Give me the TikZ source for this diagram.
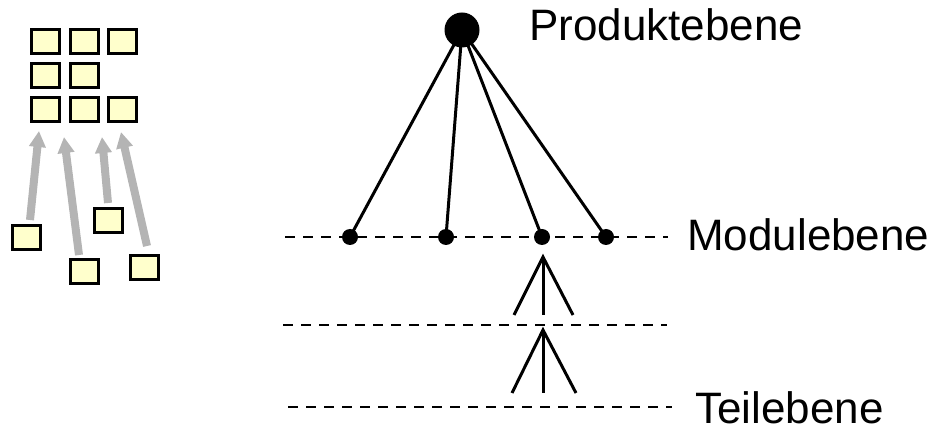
\documentclass[tikz,border=0pt]{standalone}
\usepackage{fontspec}
\setmainfont{Liberation Sans}
\usetikzlibrary{arrows.meta}
\definecolor{partfill}{RGB}{255,255,204}
\definecolor{flowgray}{RGB}{180,180,180}
\tikzset{
  part/.style={draw=black, line width=3pt, fill=partfill, minimum width=28pt, minimum height=24pt, inner sep=0pt, outer sep=0pt},
  flow/.style={draw=flowgray, line width=8pt, -{Triangle[width=16pt,length=16pt]}},
  level/.style={line width=2.7pt, dash pattern=on 10pt off 8pt},
  edge/.style={line width=3pt},
  bigdot/.style={circle, fill=black, minimum size=35pt, inner sep=0pt, outer sep=0pt},
  dot/.style={circle, fill=black, minimum size=16pt, inner sep=0pt, outer sep=0pt},
  lbl/.style={anchor=base west, inner sep=0pt, font=\fontsize{44pt}{50pt}\selectfont}
}
\begin{document}
\begin{tikzpicture}[x=1pt, y=-1pt]
\useasboundingbox (0,0) rectangle (937,427);

% assembled product: grid of parts
\node[part] (g11) at (45.5,41.5) {};
\node[part] (g12) at (84,41.5) {};
\node[part] (g13) at (122.5,41.5) {};
\node[part] (g21) at (45.5,75.5) {};
\node[part] (g22) at (84,75.5) {};
\node[part] (g31) at (45.5,110) {};
\node[part] (g32) at (84,110) {};
\node[part] (g33) at (122.5,110) {};

% loose parts
\node[part] (pa) at (26,237.5) {};
\node[part] (pb) at (84,271.5) {};
\node[part] (pc) at (108,220.5) {};
\node[part] (pd) at (144,267.5) {};

% arrow ends
\coordinate (sa) at (30,220);
\coordinate (ta) at (39,131);
\coordinate (sb) at (79,255);
\coordinate (tb) at (64,137);
\coordinate (sc) at (108,203);
\coordinate (tc) at (102,137);
\coordinate (sd) at (147,246);
\coordinate (td) at (121,132);
\draw[flow] (sa) -- (ta);
\draw[flow] (sb) -- (tb);
\draw[flow] (sc) -- (tc);
\draw[flow] (sd) -- (td);

% level lines
\coordinate (l1a) at (285,237);
\coordinate (l1b) at (668,237);
\coordinate (l2a) at (283,325);
\coordinate (l2b) at (667,325);
\coordinate (l3a) at (288,407);
\coordinate (l3b) at (672,407);
\draw[level] (l1a) -- (l1b);
\draw[level] (l2a) -- (l2b);
\draw[level] (l3a) -- (l3b);

% product and modules
\node[bigdot] (prod) at (462,30) {};
\node[dot] (m1) at (350,237) {};
\node[dot] (m2) at (446,237) {};
\node[dot] (m3) at (542,237) {};
\node[dot] (m4) at (606,237) {};
\draw[edge] (prod.center) -- (m1.center);
\draw[edge] (prod.center) -- (m2.center);
\draw[edge] (prod.center) -- (m3.center);
\draw[edge] (prod.center) -- (m4.center);

% forks below the module level
\coordinate (f1) at (543,257);
\coordinate (f1l) at (514,315);
\coordinate (f1m) at (543,315);
\coordinate (f1r) at (573,315);
\draw[edge] (f1l) -- (f1) -- (f1r);
\draw[edge] (f1) -- (f1m);
\coordinate (f2) at (543,330);
\coordinate (f2l) at (512,393);
\coordinate (f2m) at (543,393);
\coordinate (f2r) at (576,393);
\draw[edge] (f2l) -- (f2) -- (f2r);
\draw[edge] (f2) -- (f2m);

% labels
\node[lbl] (tprod) at (529,41) {Produktebene};
\node[lbl] (tmod) at (687,251) {Modulebene};
\node[lbl] (tteil) at (695,423) {Teilebene};
\end{tikzpicture}
\end{document}
